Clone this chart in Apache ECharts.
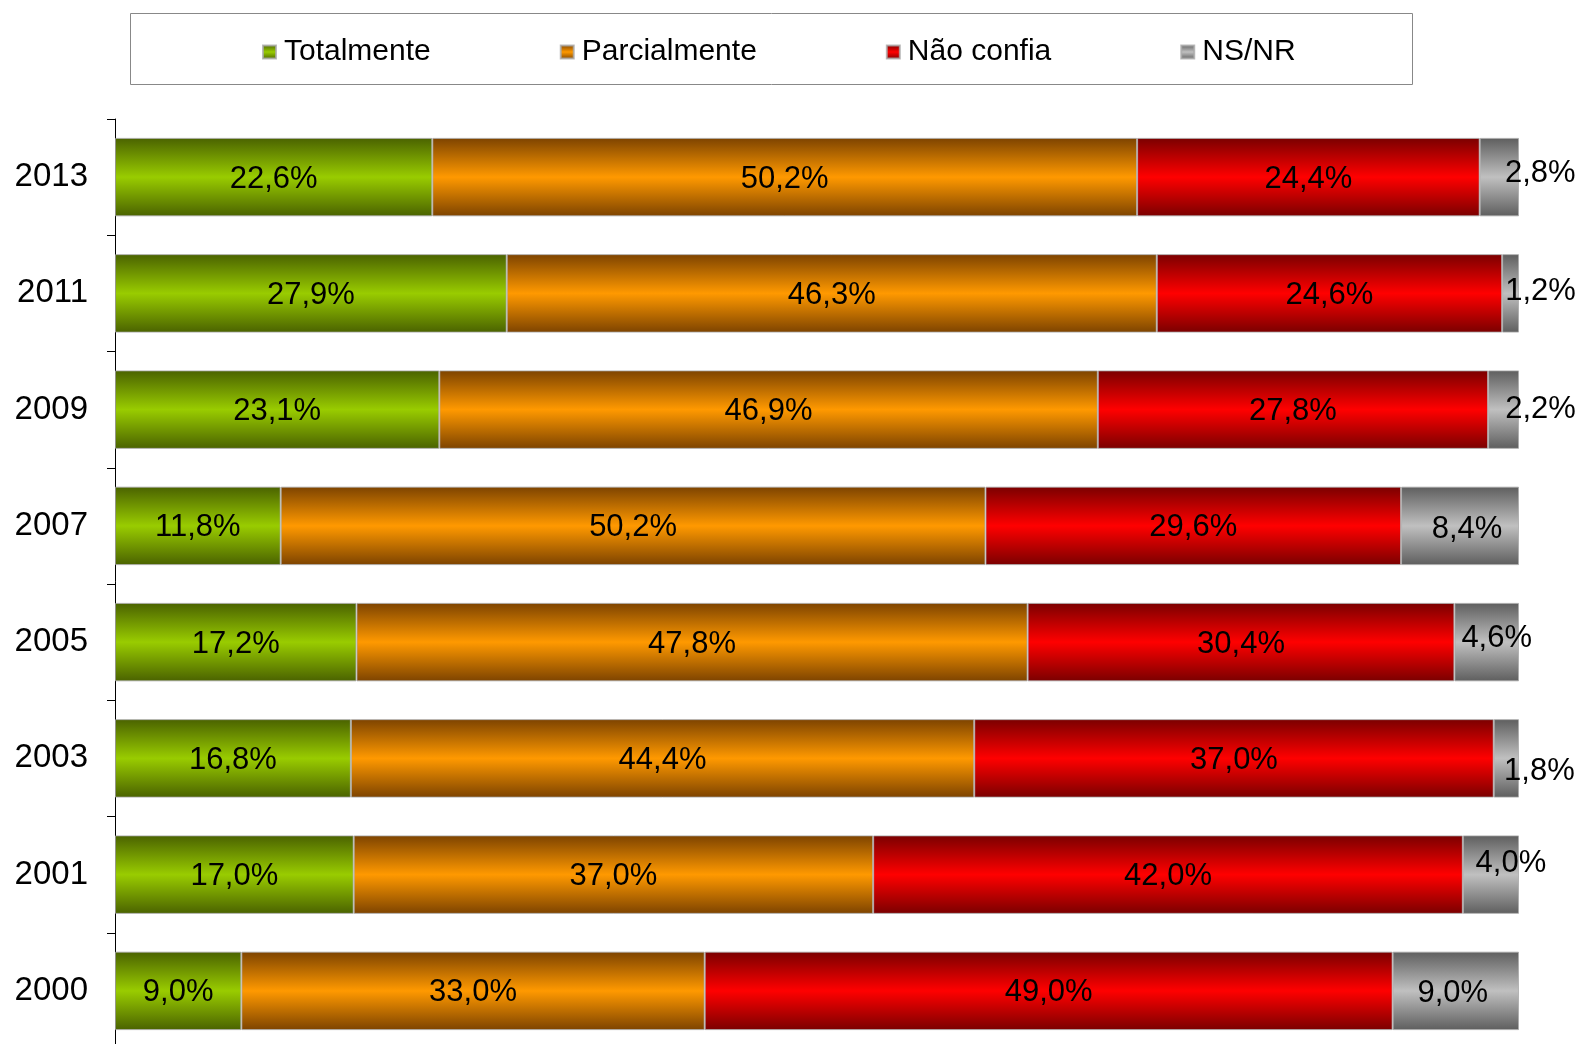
<!DOCTYPE html>
<html>
<head>
<meta charset="utf-8">
<script src="https://cdn.jsdelivr.net/npm/echarts@6/dist/echarts.min.js"></script>
<style>html,body{margin:0;padding:0;background:#fff}#c{width:1581px;height:1044px}</style>
</head>
<body>
<div id="c"></div>
<script>
const years = ['2013', '2011', '2009', '2007', '2005', '2003', '2001', '2000'];
const seriesNames = ['Totalmente', 'Parcialmente', 'Não confia', 'NS/NR'];
const totalmente = [22.6, 27.9, 23.1, 11.8, 17.2, 16.8, 17.0, 9.0];
const parcialmente = [50.2, 46.3, 46.9, 50.2, 47.8, 44.4, 37.0, 33.0];
const naoConfia = [24.4, 24.6, 27.8, 29.6, 30.4, 37.0, 42.0, 49.0];
const nsnr = [2.8, 1.2, 2.2, 8.4, 4.6, 1.8, 4.0, 9.0];

// label offsets for the last (grey) segment, as in the original
const nsOffsets = [[41,-4],[30,-2],[37,0],[7,4],[10,-4],[33,13],[20,-11],[-3,3]];

const FONT = '"Liberation Sans", Arial, sans-serif';
function grad(edge, mid) {
  return new echarts.graphic.LinearGradient(0, 0, 0, 1, [
    {offset: 0, color: edge}, {offset: 0.5, color: mid}, {offset: 1, color: edge}
  ]);
}
const colors = [
  grad('#4a6200', '#99cc00'),
  grad('#7d4300', '#ff9900'),
  grad('#7a0000', '#ff0000'),
  grad('#5e5e5e', '#c0c0c0')
];
const valuesList = [totalmente, parcialmente, naoConfia, nsnr];
const fmt = p => p.value.toFixed(1).replace('.', ',') + '%';

const series = valuesList.map((vals, si) => ({
  name: seriesNames[si],
  type: 'bar',
  stack: 'total',
  barWidth: '67.5%',
  itemStyle: {color: colors[si], borderColor: 'rgba(170,170,170,0.8)', borderWidth: 1},
  label: {show: true, position: 'inside', formatter: fmt, color: '#000', fontSize: 31, fontFamily: FONT, offset: [0, 2]},
  data: vals.map((v, i) => si === 3 ? {value: v, label: {offset: nsOffsets[i]}} : v)
}));

const chart = echarts.init(document.getElementById('c'));
chart.setOption({
  animation: false,
  backgroundColor: '#fff',
  graphic: [{type: 'rect', shape: {x: 130.5, y: 13.5, width: 1282, height: 71}, style: {fill: 'none', stroke: '#888', lineWidth: 1}}],
  legend: {
    left: 257, top: 32,
    itemWidth: 13, itemHeight: 13, itemGap: 129,
    icon: 'rect',
    textStyle: {fontSize: 30, fontFamily: FONT, color: '#000', padding: [0, 0, 0, 3]},
    data: seriesNames
  },
  grid: {left: 115, top: 119, width: 1404, height: 930, outerBoundsMode: 'none'},
  xAxis: {type: 'value', min: 0, max: 100, show: false},
  yAxis: {
    type: 'category', data: years, inverse: true,
    axisLine: {lineStyle: {color: '#000', width: 1}},
    axisTick: {show: true, length: 8, lineStyle: {color: '#000'}},
    axisLabel: {fontSize: 33, fontFamily: FONT, color: '#000', margin: 27, padding: [6, 0, 0, 0]}
  },
  series: series
});
</script>
</body>
</html>
